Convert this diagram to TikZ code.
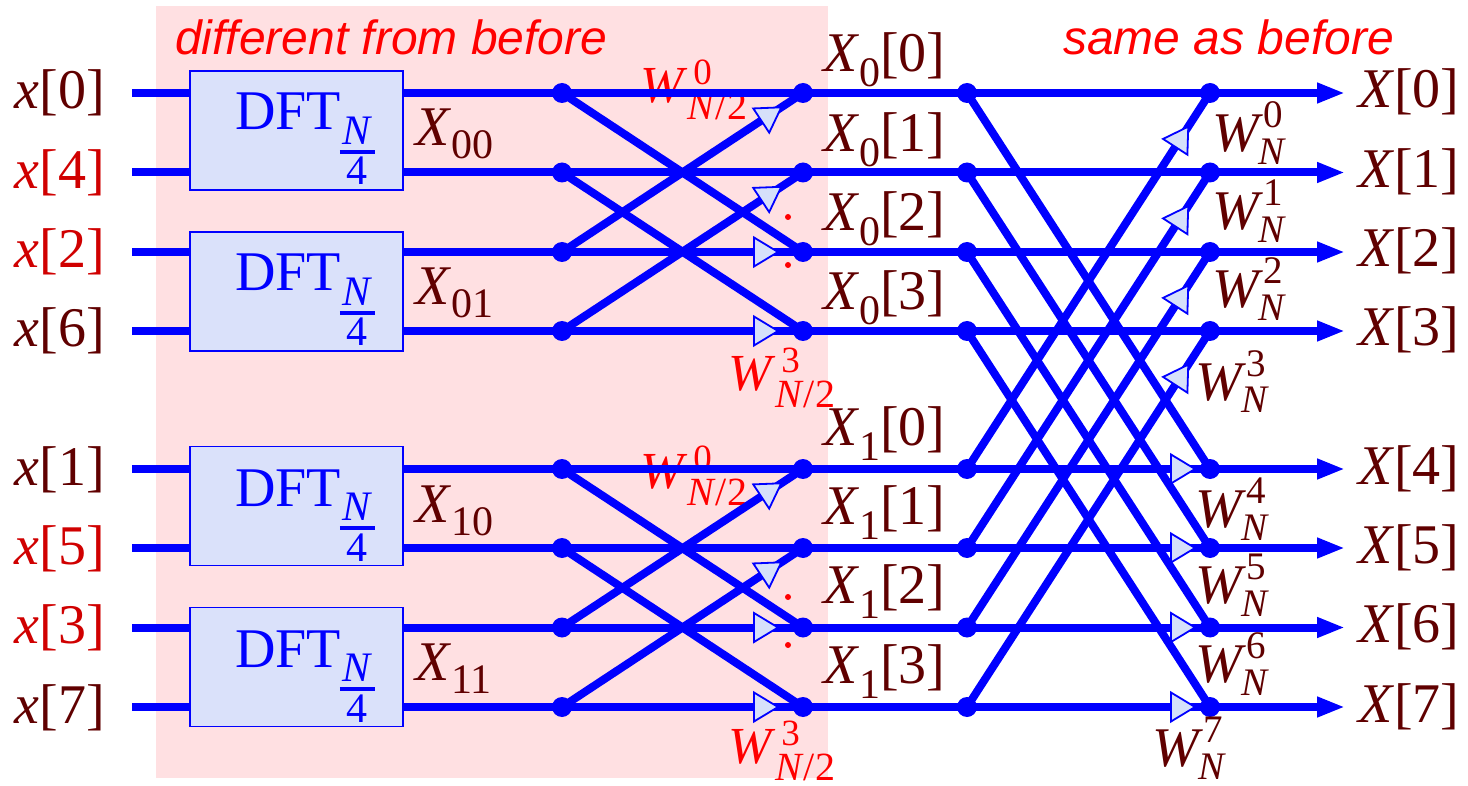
\documentclass[tikz,border=0pt]{standalone}
\usepackage{fontspec}
\setmainfont{Liberation Serif}
\setsansfont{Liberation Sans}
\usetikzlibrary{arrows.meta,decorations.markings}
\definecolor{wireblue}{RGB}{0,0,255}
\definecolor{boxfill}{RGB}{218,225,250}
\definecolor{trifill}{RGB}{214,224,250}
\definecolor{pinkbg}{RGB}{255,224,226}
\definecolor{labdark}{RGB}{96,0,0}
\definecolor{labred}{RGB}{208,0,0}
\definecolor{notered}{RGB}{255,0,0}
\newcommand\sbx[3]{\raisebox{#1}{\fontsize{#2}{#2}\selectfont #3}}
\newcommand\Wn[1]{\textit{W}\rlap{\sbx{24pt}{39}{#1}}\kern-5pt\sbx{-13pt}{39}{\textit{N}}}
\newcommand\Wh[1]{\textit{W}\rlap{\kern6pt\sbx{18pt}{37}{#1}}\sbx{-17pt}{40}{\textit{N}/2}}
\newcommand\nfour{\raisebox{-55pt}{\fontsize{42}{42}\selectfont\vbox{\halign{\hfil##\hfil\cr\kern2.5pt\textit{N}\kern2.5pt\cr\noalign{\kern6pt\hrule height4pt\kern3pt}4\cr}}}}
\begin{document}
\begin{tikzpicture}[x=1pt,y=-1pt,
  wire/.style={draw=wireblue, line width=8pt},
  dot/.style={circle, fill=wireblue, minimum size=20pt, inner sep=0pt},
  dftbox/.style={draw=wireblue, line width=1.6pt, fill=boxfill, minimum width=213pt, minimum height=119pt, inner sep=0pt},
  lab/.style={text=labdark, font=\fontsize{56}{60}\selectfont, inner sep=0pt},
  dftlab/.style={text=wireblue, font=\fontsize{56}{60}\selectfont, inner sep=0pt, anchor=base west},
  wlab/.style={text=notered, font=\fontsize{52}{56}\selectfont, inner sep=0pt, anchor=base west},
  note/.style={text=notered, font=\sffamily\itshape\fontsize{48}{52}\selectfont, inner sep=0pt, anchor=base west},
  rdot/.style={circle, fill=notered, minimum size=6pt, inner sep=0pt},
  tw/.style={postaction={decorate}, decoration={markings, mark=at position -#1 with {\filldraw[draw=wireblue, fill=trifill, line width=1.8pt, line join=miter] (0pt,0pt) -- (-24pt,14.5pt) -- (-24pt,-14.5pt) -- cycle;}}},
  outarrow/.style={-{Triangle[length=28pt,width=19pt]}}
]
\useasboundingbox (0,0) rectangle (1468,786);
\fill[pinkbg] (156,6) rectangle (828,778);

\node[note] (n1) at (175,55) {different from before};
\node[note] (n2) at (1063,55) {same as before};

\foreach \i/\y in {0/93,1/172.5,2/252,3/331,4/469,5/548,6/627.5,7/707}{
  \coordinate (in\i) at (132,\y);
  \node[dot] (a\i) at (562,\y) {};
  \node[dot] (b\i) at (803,\y) {};
  \node[dot] (c\i) at (967,\y) {};
  \node[dot] (d\i) at (1210,\y) {};
  \coordinate (o\i) at (1345,\y);
}

\node[dftbox] (B0) at (296.5,130.5) {};
\node[dftbox] (B1) at (296.5,291.5) {};
\node[dftbox] (B2) at (296.5,506) {};
\node[dftbox] (B3) at (296.5,667) {};
\node[dftlab] (t0) at (235,130) {DFT\kern-1pt\nfour};
\node[dftlab] (t1) at (235,291) {DFT\kern-1pt\nfour};
\node[dftlab] (t2) at (235,506) {DFT\kern-1pt\nfour};
\node[dftlab] (t3) at (235,667) {DFT\kern-1pt\nfour};

% input labels
\node[lab, anchor=base east] (lx0) at (105,109) {\textit{x}[0]};
\node[lab, anchor=base east, text=labred] (lx1) at (105,188.5) {\textit{x}[4]};
\node[lab, anchor=base east, text=labred] (lx2) at (105,268) {\textit{x}[2]};
\node[lab, anchor=base east] (lx3) at (105,347) {\textit{x}[6]};
\node[lab, anchor=base east] (lx4) at (105,485) {\textit{x}[1]};
\node[lab, anchor=base east, text=labred] (lx5) at (105,564) {\textit{x}[5]};
\node[lab, anchor=base east, text=labred] (lx6) at (105,643.5) {\textit{x}[3]};
\node[lab, anchor=base east] (lx7) at (105,723) {\textit{x}[7]};

% sub-DFT outputs
\node[lab, anchor=base west] (q0) at (415,146) {\textit{X}\sbx{-13pt}{42}{00}};
\node[lab, anchor=base west] (q1) at (415,305) {\textit{X}\sbx{-13pt}{42}{01}};
\node[lab, anchor=base west] (q2) at (415,522) {\textit{X}\sbx{-13pt}{42}{10}};
\node[lab, anchor=base west] (q3) at (415,680) {\textit{X}\sbx{-13pt}{42}{11}};

% half-size DFT outputs
\node[lab, anchor=base west] (h0) at (823,72) {\textit{X}\sbx{-15pt}{42}{0}[0]};
\node[lab, anchor=base west] (h1) at (823,151.5) {\textit{X}\sbx{-15pt}{42}{0}[1]};
\node[lab, anchor=base west] (h2) at (823,231) {\textit{X}\sbx{-15pt}{42}{0}[2]};
\node[lab, anchor=base west] (h3) at (823,310) {\textit{X}\sbx{-15pt}{42}{0}[3]};
\node[lab, anchor=base west] (h4) at (823,445) {\textit{X}\sbx{-15pt}{42}{1}[0]};
\node[lab, anchor=base west] (h5) at (823,524) {\textit{X}\sbx{-15pt}{42}{1}[1]};
\node[lab, anchor=base west] (h6) at (823,603.5) {\textit{X}\sbx{-15pt}{42}{1}[2]};
\node[lab, anchor=base west] (h7) at (823,683) {\textit{X}\sbx{-15pt}{42}{1}[3]};

% outputs
\node[lab, anchor=base west] (y0) at (1358,108) {\textit{X}[0]};
\node[lab, anchor=base west] (y1) at (1358,187.5) {\textit{X}[1]};
\node[lab, anchor=base west] (y2) at (1358,267) {\textit{X}[2]};
\node[lab, anchor=base west] (y3) at (1358,346) {\textit{X}[3]};
\node[lab, anchor=base west] (y4) at (1358,484) {\textit{X}[4]};
\node[lab, anchor=base west] (y5) at (1358,563) {\textit{X}[5]};
\node[lab, anchor=base west] (y6) at (1358,642.5) {\textit{X}[6]};
\node[lab, anchor=base west] (y7) at (1358,722) {\textit{X}[7]};

% twiddle labels, first stage
\node[wlab] (wa0) at (640,103) {\Wh{0}};
\node[wlab] (wa3) at (728,391) {\Wh{3}};
\node[wlab] (wb0) at (640,488) {\Wh{0}};
\node[wlab] (wb3) at (728,763) {\Wh{3}};
\node[rdot] (e1) at (788,217) {};
\node[rdot] (e2) at (788,265) {};
\node[rdot] (e3) at (788,597) {};
\node[rdot] (e4) at (788,645) {};

% twiddle labels, last stage
\node[lab, anchor=base west] (w0) at (1212,152) {\Wn{0}};
\node[lab, anchor=base west] (w1) at (1212,230) {\Wn{1}};
\node[lab, anchor=base west] (w2) at (1212,308) {\Wn{2}};
\node[lab, anchor=base west] (w3) at (1195,400) {\Wn{3}};
\node[lab, anchor=base west] (w4) at (1195,527) {\Wn{4}};
\node[lab, anchor=base west] (w5) at (1195,603) {\Wn{5}};
\node[lab, anchor=base west] (w6) at (1195,682) {\Wn{6}};
\node[lab, anchor=base west] (w7) at (1152,766) {\Wn{7}};

% straight wires
\foreach \i/\b in {0/B0,1/B0,2/B1,3/B1,4/B2,5/B2,6/B3,7/B3}{
  \draw[wire] (in\i) -- (in\i -| \b.west);
  \draw[wire] (a\i -| \b.east) -- (a\i.center);
  \draw[wire] (b\i.center) -- (c\i.center);
  \draw[wire, outarrow] (d\i.center) -- (o\i);
}
\foreach \i in {0,1,4,5} \draw[wire] (a\i.center) -- (b\i.center);
\foreach \i in {0,1,2,3} \draw[wire] (c\i.center) -- (d\i.center);

% first-stage butterflies
\draw[wire] (a0.center) -- (b2.center);
\draw[wire] (a1.center) -- (b3.center);
\draw[wire] (a4.center) -- (b6.center);
\draw[wire] (a5.center) -- (b7.center);
% last-stage butterflies
\foreach \i/\j in {0/4,1/5,2/6,3/7} \draw[wire] (c\i.center) -- (d\j.center);

% wires carrying twiddle factors
\foreach \i in {2,3,6,7} \draw[wire, tw=25pt] (a\i.center) -- (b\i.center);
\draw[wire, tw=26pt] (a2.center) -- (b0.center);
\draw[wire, tw=26pt] (a3.center) -- (b1.center);
\draw[wire, tw=26pt] (a6.center) -- (b4.center);
\draw[wire, tw=26pt] (a7.center) -- (b5.center);
\foreach \i/\j in {0/4,1/5,2/6,3/7} \draw[wire, tw=40pt] (c\j.center) -- (d\i.center);
\foreach \i in {4,5,6,7} \draw[wire, tw=15pt] (c\i.center) -- (d\i.center);
\end{tikzpicture}
\end{document}
